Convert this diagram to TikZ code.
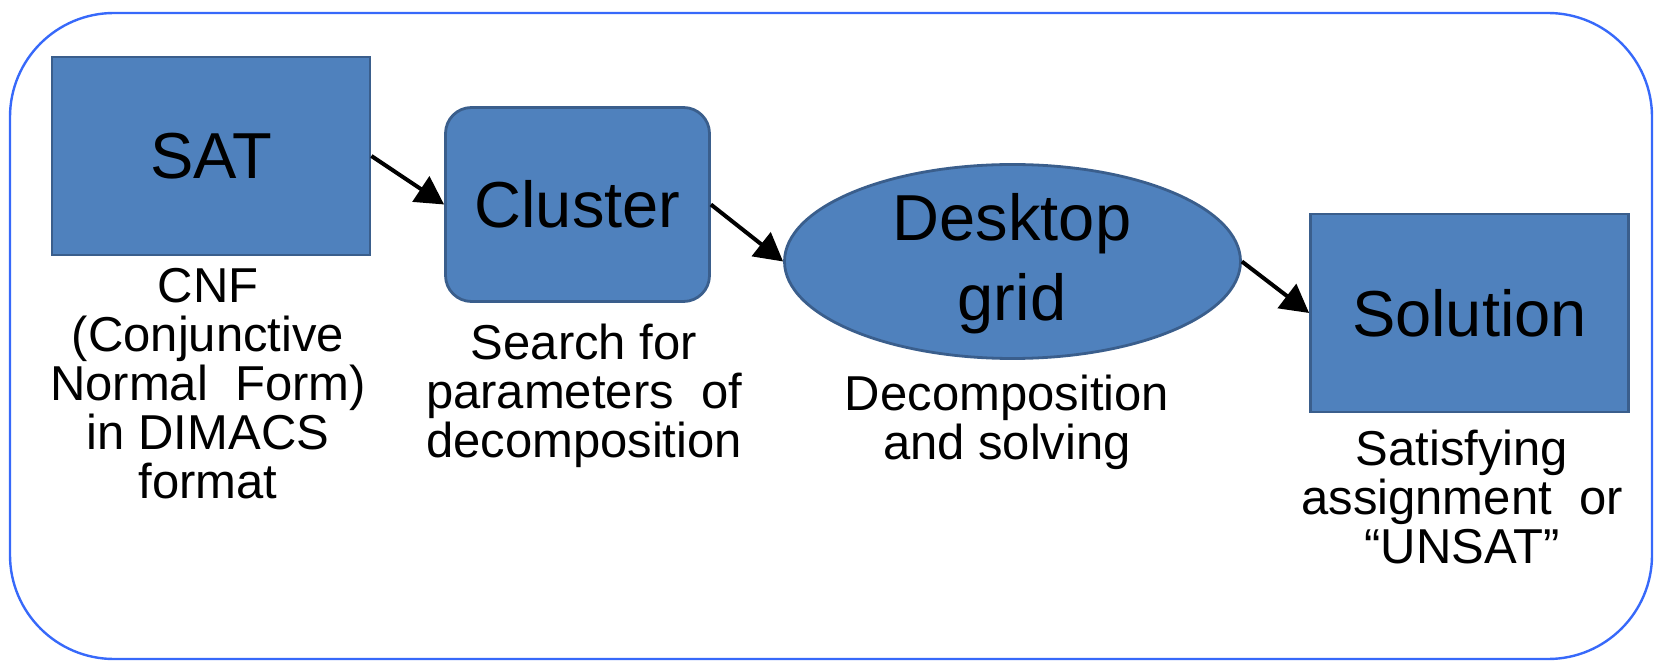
\documentclass[tikz,border=0pt]{standalone}
\usepackage{fontspec}
\setmainfont{Liberation Sans}
\usetikzlibrary{arrows.meta,shapes.geometric}
\definecolor{boxfill}{RGB}{79,129,189}
\definecolor{boxline}{RGB}{58,94,140}
\definecolor{framecol}{RGB}{55,105,250}
\tikzset{
  block/.style={draw=boxline, fill=boxfill, line width=1.4pt, inner sep=0pt,
    text=black, font=\fontsize{32.5}{40}\selectfont},
  rectblock/.style={block, rectangle, minimum width=159pt, minimum height=99pt},
  roundblock/.style={block, rectangle, rounded corners=13pt, minimum width=132pt, minimum height=97pt},
  ovalblock/.style={block, ellipse, minimum width=228pt, minimum height=97pt},
  bigtext/.style={inner sep=0pt, align=center, font=\fontsize{32.5}{40}\selectfont},
  caption/.style={inner sep=0pt, anchor=north, align=center, font=\fontsize{24.5}{24.5}\selectfont},
  flow/.style={line width=2pt, -{Triangle[length=14pt,width=15pt]}}
}
\begin{document}
\begin{tikzpicture}[x=0.5pt, y=-0.5pt]
  \useasboundingbox (0,0) rectangle (1654,662);
  % outer frame
  \draw[framecol, line width=1.2pt, rounded corners=52pt] (10,13) rectangle (1652,659);

  % stages
  \node[rectblock]  (sat)     at (211,156)    {SAT};
  \node[roundblock] (cluster) at (577.5,204.5) {Cluster};
  \node[ovalblock]  (grid)    at (1012.5,261.5) {};
  \node[bigtext]    (gridtxt) at (1012,264)   {Desktop\\grid};
  \node[rectblock]  (sol)     at (1469.5,313) {Solution};

  % captions
  \node[caption] (satcap)  at (208,268)  {CNF\\(Conjunctive\\Normal\ \ Form)\\in DIMACS\\format};
  \node[caption] (clucap)  at (584,324)  {Search for\\parameters\ \ of\\decomposition};
  \node[caption] (gridcap) at (1007,375) {Decomposition\\and solving};
  \node[caption] (solcap)  at (1462,430) {Satisfying\\assignment\ \ or\\“UNSAT”};

  % flow
  \draw[flow] (sat.east) -- (cluster.west);
  \draw[flow] (cluster.east) -- (grid.west);
  \draw[flow] (grid.east) -- (sol.west);
\end{tikzpicture}
\end{document}
